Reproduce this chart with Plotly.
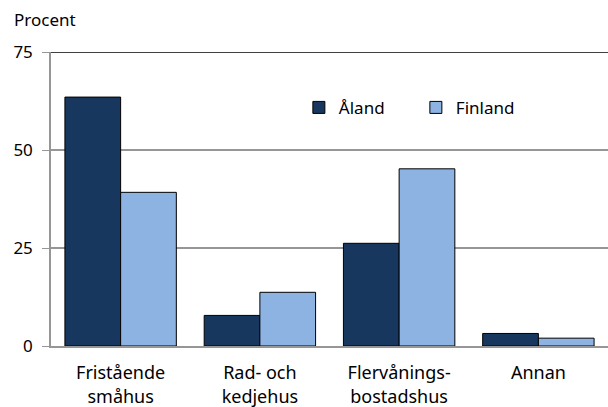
import plotly.graph_objects as go

categories = ["Fristående<br>småhus", "Rad- och<br>kedjehus", "Flervånings-<br>bostadshus", "Annan"]
aland = [63.5, 7.8, 26.2, 3.2]
finland = [39.2, 13.7, 45.2, 2.0]

DARK_BLUE = "#17375e"
LIGHT_BLUE = "#8db3e2"
GREY = "#969696"

fig = go.Figure()
fig.add_trace(go.Bar(x=categories, y=aland, name="Åland",
                     marker={"color": DARK_BLUE, "line": {"color": "#000000", "width": 1}}))
fig.add_trace(go.Bar(x=categories, y=finland, name="Finland",
                     marker={"color": LIGHT_BLUE, "line": {"color": "#000000", "width": 1}}))

# top border of the plot area is drawn black
fig.add_shape(type="line", xref="paper", yref="y", x0=0, x1=1, y0=75, y1=75,
              line={"color": "#000000", "width": 1.5})

fig.update_layout(
    width=608,
    height=407,
    margin={"l": 51, "r": 0, "t": 52, "b": 61, "autoexpand": False},
    paper_bgcolor="white",
    plot_bgcolor="white",
    font={"family": "Noto Sans, sans-serif", "size": 17, "color": "#000000"},
    barmode="group",
    bargap=0.2,
    bargroupgap=0,
    showlegend=True,
    legend={"orientation": "h", "x": 0.445, "y": 0.81, "xanchor": "left", "yanchor": "middle",
            "bgcolor": "rgba(0,0,0,0)", "font": {"size": 17},
            "entrywidth": 72, "entrywidthmode": "pixels"},
    annotations=[{"text": "Procent", "xref": "paper", "yref": "paper", "x": -0.07, "y": 1.11,
                  "xanchor": "left", "yanchor": "middle", "showarrow": False,
                  "font": {"size": 17}}],
)
fig.update_yaxes(range=[0, 75], tickvals=[0, 25, 50, 75], showgrid=True, gridcolor=GREY,
                 gridwidth=1.5, showline=True, linecolor=GREY, linewidth=1.5, ticks="outside",
                 ticklen=7, tickcolor=GREY, zeroline=False, automargin=False, ticklabelstandoff=6)
fig.update_xaxes(showline=True, linecolor=GREY, linewidth=1.5, ticks="", automargin=False,
                 ticklabelstandoff=10, tickfont={"size": 18})

fig.write_html("out.html", post_script="document.body.style.margin='0';",
               config={"displayModeBar": False})
